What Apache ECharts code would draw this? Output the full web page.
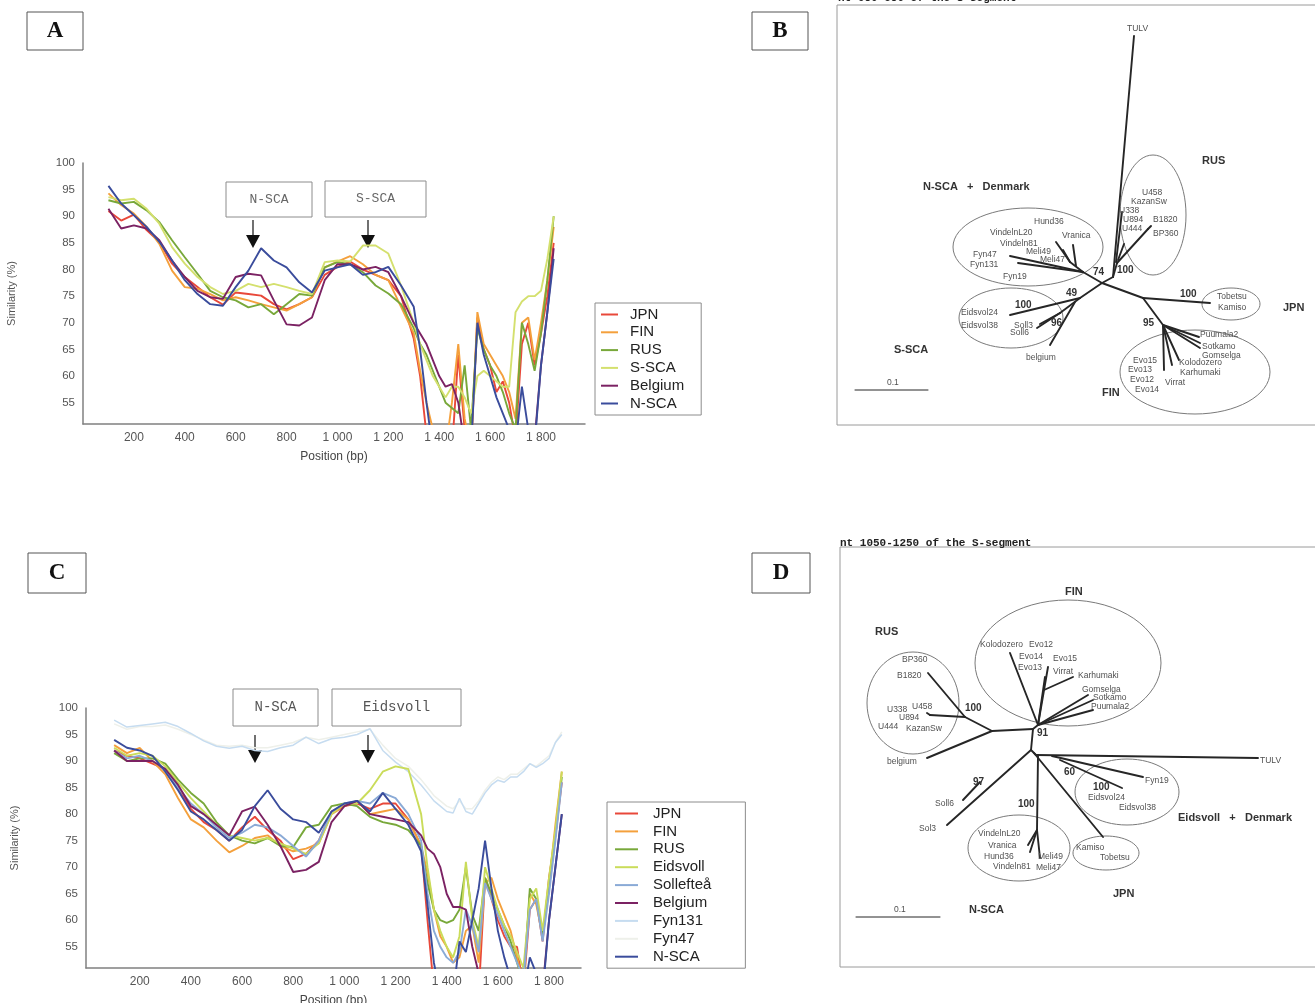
<!DOCTYPE html>
<html>
<head>
<meta charset="utf-8">
<title>Similarity plots and S-segment trees</title>
<script src="https://cdn.jsdelivr.net/npm/echarts@6/dist/echarts.min.js"></script>
<style>
  html, body { margin: 0; padding: 0; background: #fff; }
  #main { width: 1315px; height: 1003px; }
</style>
</head>
<body>
<div id="main"></div>
<script>
// ---- similarity plots (panels A and C) ----
const X = [100,150,200,250,300,350,400,450,500,550,600,650,700,750,800,850,900,950,1000,1050,1100,1150,1200,1250,
  1300,1325,1350,1375,1400,1425,1450,1475,1500,1525,1550,1575,1600,1625,1650,1675,1700,1725,1750,1775,1800,1825,1850];
const xTicks = [200, 400, 600, 800, 1000, 1200, 1400, 1600, 1800];
const yTicks = [55, 60, 65, 70, 75, 80, 85, 90, 95, 100];

// panel A
const aJPN = [91,89.2,90.3,87.4,85.2,81.1,78.6,76.7,74.8,73.4,75.7,75.4,75.1,73.5,72.5,73.5,74.8,79,80.5,81.5,80,79,78,75,
  67,60,49,46,46,46,46,64,50,46,71,65,62,57,59,55,48,66,70,62,68,75,85];
const aFIN = [94.3,92.1,90.5,88,84.8,79.8,76.7,76.4,75.4,74.2,74.8,74.2,73.5,72.9,72.3,73.5,74.8,80.4,81.5,82.5,81,79,78,73,
  68,61,55,50,46,46,55,66,52,46,72,66,64,62,60,57,52,70,71,63,70,78,88];
const aRUS = [93,92.4,92.7,91.1,88.9,85.5,82.3,79.2,76,74.8,74.2,72.9,73.5,71.6,73.5,75.4,75.1,80.4,81.4,81,79.5,77,75.5,73.5,
  69,66,64,61,58,55,54,53,62,50,69,65,62,60,57,53,50,70,66,61,68,78,90];
const aSSCA = [93.6,93,93.3,91.4,88.6,84.2,81.1,78.6,76.7,75.4,76,77.3,76.7,77.3,76.7,76,75.4,81.4,81.7,81.5,84.5,84.5,83,77,
  70,66,63,60,58,56,58,58,56,53,60,61,60,59,58,58,72,74,75,75,76,82,90];
const aBEL = [91.4,87.7,88.3,87.7,85.5,81.7,78.6,76,74.8,74.5,78.6,79.2,78.9,74.2,69.7,69.5,71,78,81,81,80,80.5,79.5,75,
  70,68,66,63,60,58,58.5,55,47,46,46,46,46,46,46,46,46,46,46,48,62,72,84];
const aNSCA = [95.7,92.4,90.2,88,85.2,81.7,78,75.4,73.5,73.2,76.7,79.8,84,81.7,80.4,77.6,75.7,79.8,80.4,81,79,79.5,80.5,77,
  73,65,55,46,46,46,46,46,46,46,70,64,60,56,53,50,47,58,50,47,62,72,82];

// panel C
const cJPN = [92,91,90.5,89.5,88.5,85,81,78.5,77,75,77.5,79.5,77,75,71.5,72.5,75,80.5,81.5,82,81,82,82,79,
  74,60,47,46,46,46,46,50,46,46,68,64,60,57,55,55,47,62,64,56,68,76,86];
const cFIN = [93,91.5,92.5,90,87.5,83,79,77.5,75,72.8,74,75.5,76,74,73,73.5,74.5,80,81.5,82.5,80,80.5,81,79,
  74,69,62,57,55,52,53,58,59,52,67,68,64,61,58,53,48,65,63,57,67,78,88];
const cRUS = [91.5,90,90.5,90.5,89.5,86.5,84,82,78.5,76,75,74.5,75.5,74,73.8,77.5,78,81.5,82,81.5,79.5,78.5,78,77,
  74,67,62,60,59.5,60,62,70,61,58,68,65,62,59,56,52,48,66,64,57,66,76,87];
const cEID = [92.5,91,91.5,91,89,86,83,80.5,78,76,75.5,75,75.5,74.5,73.5,72.5,74.5,80,82,82,84.5,88,89,88.5,
  80,70,62,58,55,53,57,71,60,55,70,66,62,59,57,54,51,64,66,58,68,77,88];
const cSOL = [92,90.5,91,90,88.5,85,82,80,77.5,75.5,76.5,78,77.5,76,74,72,75,80.5,82,82.5,82,84,83,80,
  75,65,58,55,53,52,54,62,59,54,67,64,61,58,55,52,49,62,64,56,65,75,86];
const cBEL = [92,90,90,90,88.5,85.5,81.5,80,78,76,80.5,81.4,78,74,69.1,69.5,71,78.5,81.5,82.5,80,79.5,79,78.5,
  76,73.5,72.5,70,65,62.5,62.5,62,55,50,46,46,46,46,46,46,46,47,47,47,60,70,80];
const cFYN131 = [97.7,96.4,96.7,97,97.3,96.5,95.2,93.8,92.8,92.4,92.8,92,91.8,92.5,93,94.5,93.3,94.2,94.5,95,96.1,92,89.8,88,
  85.5,84,82.5,81.5,80.5,80.2,83,80.5,80,82,84,85.5,86.4,86,87,87,88,89.5,88.8,89.5,90.5,93.5,95];
const cFYN47 = [97,96,96.5,96.5,96.8,96,95,94,93,92.8,93,92.5,92.5,93,93.5,94.5,94,94.5,95,95.5,96,93,90.5,89,
  86.5,85,83.5,82.5,81.5,81,82.5,81,81,82.5,84.5,86,87,86.5,87.5,87.5,88.5,89.5,89,90,91,93.5,95.5];
const cNSCA = [94,92.5,92,91,88,84.5,80.5,79,77,75,77,81.5,84.5,81,79,78.5,76.5,80.5,82,82.5,80.5,84,81,78,
  73,63,52,46,46,46,56,54,60,66,75,66,58,53,49,46,46,53,50,46,60,70,80];

// ---- trees (panels B and D), in panel layout units ----
const treeB_branches = [
  [304,36,283,277],[272,283,283,277],[283,277,287,263],[287,263,318,229],[318,229,321,226],
  [286,262,292,212],[288,260,294,244],
  [272,283,253,272],[253,272,180,256],[253,272,188,263],[253,272,240,262],[240,262,226,242],
  [240,262,233,250],[246,266,243,245],
  [272,283,250,298],[250,298,180,315],[250,298,230,313],[230,313,207,328],[230,313,210,324],[245,302,220,345],
  [272,283,313,298],[313,298,380,303],[313,298,333,325],[333,325,334,370],[333,325,342,365],
  [333,325,349,360],[333,325,370,348],[333,325,370,343],[333,325,369,337]
];
const treeB_scale = [[25,390,98,390]];
const treeB_clades = [[323,215,33,60],[198,247,75,39],[181,318,52,30],[401,304,29,16],[365,372,75,42]];
const treeB_tips = [
  [297,29,'TULV'],[312,193,'U458'],[301,202,'KazanSw'],[289,211,'U338'],[293,220,'U894'],[323,220,'B1820'],
  [292,229,'U444'],[323,234,'BP360'],[204,222,'Hund36'],[160,233,'VindelnL20'],[232,236,'Vranica'],
  [170,244,'Vindeln81'],[196,252,'Meli49'],[143,255,'Fyn47'],[210,260,'Meli47'],[140,265,'Fyn131'],
  [173,277,'Fyn19'],[387,297,'Tobetsu'],[388,308,'Kamiso'],[131,313,'Eidsvol24'],[131,326,'Eidsvol38'],
  [184,326,'Soll3'],[180,333,'Soll6'],[196,358,'belgium'],[370,335,'Puumala2'],[372,347,'Sotkamo'],
  [372,356,'Gomselga'],[349,363,'Kolodozero'],[350,373,'Karhumaki'],[303,361,'Evo15'],[298,370,'Evo13'],
  [300,380,'Evo12'],[335,383,'Virrat'],[305,390,'Evo14'],[57,383,'0.1']
];
const treeB_groups = [[372,161,'RUS'],[93,187,'N-SCA   +   Denmark'],[453,308,'JPN'],[64,350,'S-SCA'],[272,393,'FIN']];
const treeB_support = [[263,272,'74'],[287,270,'100'],[236,293,'49'],[350,294,'100'],[185,305,'100'],
  [221,323,'96'],[313,323,'95']];

const treeD_branches = [
  [203,199,201,220],[203,199,162,201],[162,201,135,187],[135,187,98,143],[135,187,100,185],[100,185,97,183],
  [162,201,97,228],
  [203,199,208,195],[208,195,180,123],[208,195,215,147],[208,195,218,137],[214,160,243,147],
  [208,195,258,165],[208,195,263,170],[208,195,263,180],
  [201,220,206,225],[206,225,428,228],[222,226,313,247],[230,230,292,258],
  [204,223,273,307],[208,226,207,300],[207,300,200,322],[207,300,198,315],[207,300,210,328],
  [201,220,117,295],[150,252,133,270]
];
const treeD_scale = [[26,387,110,387]];
const treeD_clades = [[238,133,93,63],[83,173,46,51],[297,262,52,33],[189,318,51,33],[276,323,33,17]];
const treeD_tips = [
  [150,115,'Kolodozero'],[199,115,'Evo12'],[72,130,'BP360'],[189,127,'Evo14'],[223,129,'Evo15'],
  [67,146,'B1820'],[188,138,'Evo13'],[223,142,'Virrat'],[248,146,'Karhumaki'],[252,160,'Gomselga'],
  [263,168,'Sotkamo'],[261,177,'Puumala2'],[82,177,'U458'],[57,180,'U338'],[69,188,'U894'],
  [48,197,'U444'],[76,199,'KazanSw'],[57,232,'belgium'],[430,231,'TULV'],[315,251,'Fyn19'],
  [258,268,'Eidsvol24'],[289,278,'Eidsvol38'],[105,274,'Soll6'],[89,299,'Sol3'],[148,304,'VindelnL20'],
  [158,316,'Vranica'],[246,318,'Kamiso'],[154,327,'Hund36'],[270,328,'Tobetsu'],[208,327,'Meli49'],
  [163,337,'Vindeln81'],[206,338,'Meli47'],[64,380,'0.1']
];
const treeD_groups = [[235,62,'FIN'],[45,102,'RUS'],[348,288,'Eidsvoll   +   Denmark'],[283,364,'JPN'],[139,380,'N-SCA']];
const treeD_support = [[135,178,'100'],[207,203,'91'],[234,242,'60'],[143,252,'97'],[263,257,'100'],[188,274,'100']];

const FONT = '"Liberation Sans", Arial, sans-serif';
const MONO = '"Liberation Mono", "DejaVu Sans Mono", monospace';
const SERIF = '"Liberation Serif", "DejaVu Serif", serif';

const chart = echarts.init(document.getElementById('main'));

function fmtBp(v) {
  const s = String(v);
  return s.length > 3 ? s.slice(0, -3) + ' ' + s.slice(-3) : s;
}

function simX(gi, min, max) {
  return {
    type: 'value', gridIndex: gi, min: min, max: max,
    name: 'Position (bp)', nameLocation: 'middle', nameGap: 27,
    nameTextStyle: { color: '#444', fontSize: 12, fontFamily: FONT },
    axisLine: { show: true, onZero: false, lineStyle: { color: '#808080', width: 1.5 } },
    axisTick: { show: false },
    splitLine: { show: false },
    axisLabel: { customValues: xTicks, formatter: fmtBp, color: '#555', fontSize: 12, margin: 8, fontFamily: FONT }
  };
}

function simY(gi) {
  return {
    type: 'value', gridIndex: gi, min: 51, max: 100,
    name: 'Similarity (%)', nameLocation: 'middle', nameGap: 66, nameRotate: 90,
    nameTextStyle: { color: '#555', fontSize: 11, fontFamily: FONT },
    axisLine: { show: true, onZero: false, lineStyle: { color: '#808080', width: 1.5 } },
    axisTick: { show: false },
    splitLine: { show: false },
    axisLabel: { customValues: yTicks, color: '#555', fontSize: 11.5, margin: 8, fontFamily: FONT }
  };
}

function simLine(name, values, color, gi, width) {
  return {
    type: 'line', name: name, xAxisIndex: gi, yAxisIndex: gi,
    data: X.map(function (x, i) { return [x, values[i]]; }),
    showSymbol: false, symbol: 'none', clip: true, silent: true,
    lineStyle: { color: color, width: width || 1.9 },
    itemStyle: { color: color }
  };
}

function treeLines(data, gi, width) {
  return {
    type: 'custom', coordinateSystem: 'cartesian2d', xAxisIndex: gi, yAxisIndex: gi, silent: true,
    data: data, encode: { x: [0, 2], y: [1, 3] },
    renderItem: function (p, api) {
      const a = api.coord([api.value(0), api.value(1)]);
      const b = api.coord([api.value(2), api.value(3)]);
      return { type: 'line', shape: { x1: a[0], y1: a[1], x2: b[0], y2: b[1] },
        style: { stroke: '#262626', lineWidth: width, lineCap: 'round' } };
    }
  };
}

function treeClades(data, gi) {
  return {
    type: 'custom', coordinateSystem: 'cartesian2d', xAxisIndex: gi, yAxisIndex: gi, silent: true,
    data: data, encode: { x: 0, y: 1 },
    renderItem: function (p, api) {
      const c = api.coord([api.value(0), api.value(1)]);
      const s = api.size([api.value(2), api.value(3)]);
      return { type: 'ellipse', shape: { cx: c[0], cy: c[1], rx: s[0], ry: s[1] },
        style: { fill: 'none', stroke: '#7a7a7a', lineWidth: 1 } };
    }
  };
}

function treeText(data, gi, font, color) {
  return {
    type: 'custom', coordinateSystem: 'cartesian2d', xAxisIndex: gi, yAxisIndex: gi, silent: true,
    data: data.map(function (d) { return [d[0], d[1]]; }), encode: { x: 0, y: 1 },
    renderItem: function (p, api) {
      const c = api.coord([api.value(0), api.value(1)]);
      return { type: 'text', x: c[0], y: c[1],
        style: { text: data[p.dataIndex][2], font: font, fill: color, align: 'left', verticalAlign: 'middle' } };
    }
  };
}

function rect(x, y, w, h, stroke) {
  return { type: 'rect', shape: { x: x, y: y, width: w, height: h },
    style: { fill: '#fff', stroke: stroke, lineWidth: 1 } };
}
function label(x, y, text, font, color, align, va) {
  return { type: 'text', x: x, y: y,
    style: { text: text, font: font, fill: color, align: align || 'center', verticalAlign: va || 'middle' } };
}
function arrow(x, y0, y1) {
  return [
    { type: 'line', shape: { x1: x, y1: y0, x2: x, y2: y1 - 12 }, style: { stroke: '#111', lineWidth: 1.2 } },
    { type: 'polygon', shape: { points: [[x - 7, y1 - 13], [x + 7, y1 - 13], [x, y1]] }, style: { fill: '#111' } }
  ];
}

const graphics = [].concat(
  // panel letters
  [rect(27, 12, 56, 38, '#555'), label(55, 31, 'A', 'bold 23px ' + SERIF, '#111'),
   rect(752, 12, 56, 38, '#555'), label(780, 31, 'B', 'bold 23px ' + SERIF, '#111'),
   rect(28, 553, 58, 40, '#555'), label(57, 573, 'C', 'bold 23px ' + SERIF, '#111'),
   rect(752, 553, 58, 40, '#555'), label(781, 573, 'D', 'bold 23px ' + SERIF, '#111')],
  // annotation boxes, panel A
  [rect(226, 182, 86, 35, '#8c8c8c'), label(269, 199.5, 'N-SCA', '13px ' + MONO, '#666'),
   rect(325, 181, 101, 36, '#8c8c8c'), label(375.5, 199, 'S-SCA', '13px ' + MONO, '#666')],
  arrow(253, 220, 248), arrow(368, 220, 248),
  // annotation boxes, panel C
  [rect(233, 689, 85, 37, '#8c8c8c'), label(275.5, 707.5, 'N-SCA', '14px ' + MONO, '#555'),
   rect(332, 689, 129, 37, '#8c8c8c'), label(396.5, 707.5, 'Eidsvoll', '14px ' + MONO, '#555')],
  arrow(255, 735, 763), arrow(368, 735, 763),
  // tree frames and titles
  [{ type: 'rect', shape: { x: 837, y: 5, width: 500, height: 420 }, style: { fill: 'none', stroke: '#9a9a9a', lineWidth: 1 } },
   { type: 'rect', shape: { x: 840, y: 547, width: 500, height: 420 }, style: { fill: 'none', stroke: '#9a9a9a', lineWidth: 1 } },
   label(838, 4, 'nt 650-850 of the S-segment', 'bold 11px ' + MONO, '#222', 'left', 'bottom'),
   label(840, 543, 'nt 1050-1250 of the S-segment', 'bold 11px ' + MONO, '#222', 'left', 'middle')]
);

const option = {
  animation: false,
  backgroundColor: '#fff',
  grid: [
    { left: 83, top: 163, width: 502, height: 261, outerBoundsMode: 'none' },
    { left: 86, top: 708, width: 495, height: 260, outerBoundsMode: 'none' },
    { left: 830, top: 0, width: 485, height: 430, outerBoundsMode: 'none' },
    { left: 830, top: 530, width: 485, height: 440, outerBoundsMode: 'none' }
  ],
  xAxis: [
    simX(0, 0, 1973),
    simX(1, -10, 1925),
    { type: 'value', gridIndex: 2, min: 0, max: 485, show: false },
    { type: 'value', gridIndex: 3, min: 0, max: 485, show: false }
  ],
  yAxis: [
    simY(0),
    simY(1),
    { type: 'value', gridIndex: 2, min: 0, max: 430, inverse: true, show: false },
    { type: 'value', gridIndex: 3, min: 0, max: 440, inverse: true, show: false }
  ],
  legend: [
    { data: ['JPN', 'FIN', 'RUS', 'S-SCA', 'Belgium', 'N-SCA'],
      left: 595, top: 303, orient: 'vertical', icon: 'rect', itemWidth: 17, itemHeight: 2, itemGap: 2.8,
      padding: [4, 17, 4, 6], borderColor: '#8c8c8c', borderWidth: 1, selectedMode: false,
      textStyle: { fontSize: 15, color: '#222', fontFamily: FONT, lineHeight: 15, padding: [0, 0, 0, 7] } },
    { data: ['JPN', 'FIN', 'RUS', 'Eidsvoll', 'Sollefteå', 'Belgium', 'Fyn131', 'Fyn47', 'N-SCA'],
      left: 607, top: 802, orient: 'vertical', icon: 'rect', itemWidth: 23, itemHeight: 2, itemGap: 2.9,
      padding: [4, 34, 4, 8], borderColor: '#8c8c8c', borderWidth: 1, selectedMode: false,
      textStyle: { fontSize: 15, color: '#222', fontFamily: FONT, lineHeight: 15, padding: [0, 0, 0, 10] } }
  ],
  graphic: graphics,
  series: [
    simLine('JPN', aJPN, '#e8483a', 0),
    simLine('FIN', aFIN, '#f4a03c', 0),
    simLine('RUS', aRUS, '#78a83a', 0),
    simLine('S-SCA', aSSCA, '#d4e06e', 0),
    simLine('Belgium', aBEL, '#7b2263', 0),
    simLine('N-SCA', aNSCA, '#3a4c9c', 0),

    simLine('Fyn47', cFYN47, '#eef0ea', 1, 1.5),
    simLine('Fyn131', cFYN131, '#c6dcf0', 1, 1.5),
    simLine('JPN', cJPN, '#e8483a', 1),
    simLine('FIN', cFIN, '#f4a03c', 1),
    simLine('RUS', cRUS, '#78a83a', 1),
    simLine('Eidsvoll', cEID, '#cadc5a', 1),
    simLine('Sollefteå', cSOL, '#8aaad6', 1),
    simLine('Belgium', cBEL, '#7b2263', 1),
    simLine('N-SCA', cNSCA, '#3a4c9c', 1),

    treeClades(treeB_clades, 2),
    treeLines(treeB_branches, 2, 1.9),
    treeLines(treeB_scale, 2, 1),
    treeText(treeB_tips, 2, '8.5px ' + FONT, '#505050'),
    treeText(treeB_groups, 2, 'bold 11px ' + FONT, '#333'),
    treeText(treeB_support, 2, 'bold 10px ' + FONT, '#333'),

    treeClades(treeD_clades, 3),
    treeLines(treeD_branches, 3, 1.9),
    treeLines(treeD_scale, 3, 1),
    treeText(treeD_tips, 3, '8.5px ' + FONT, '#505050'),
    treeText(treeD_groups, 3, 'bold 11px ' + FONT, '#333'),
    treeText(treeD_support, 3, 'bold 10px ' + FONT, '#333')
  ]
};

chart.setOption(option);
</script>
</body>
</html>
